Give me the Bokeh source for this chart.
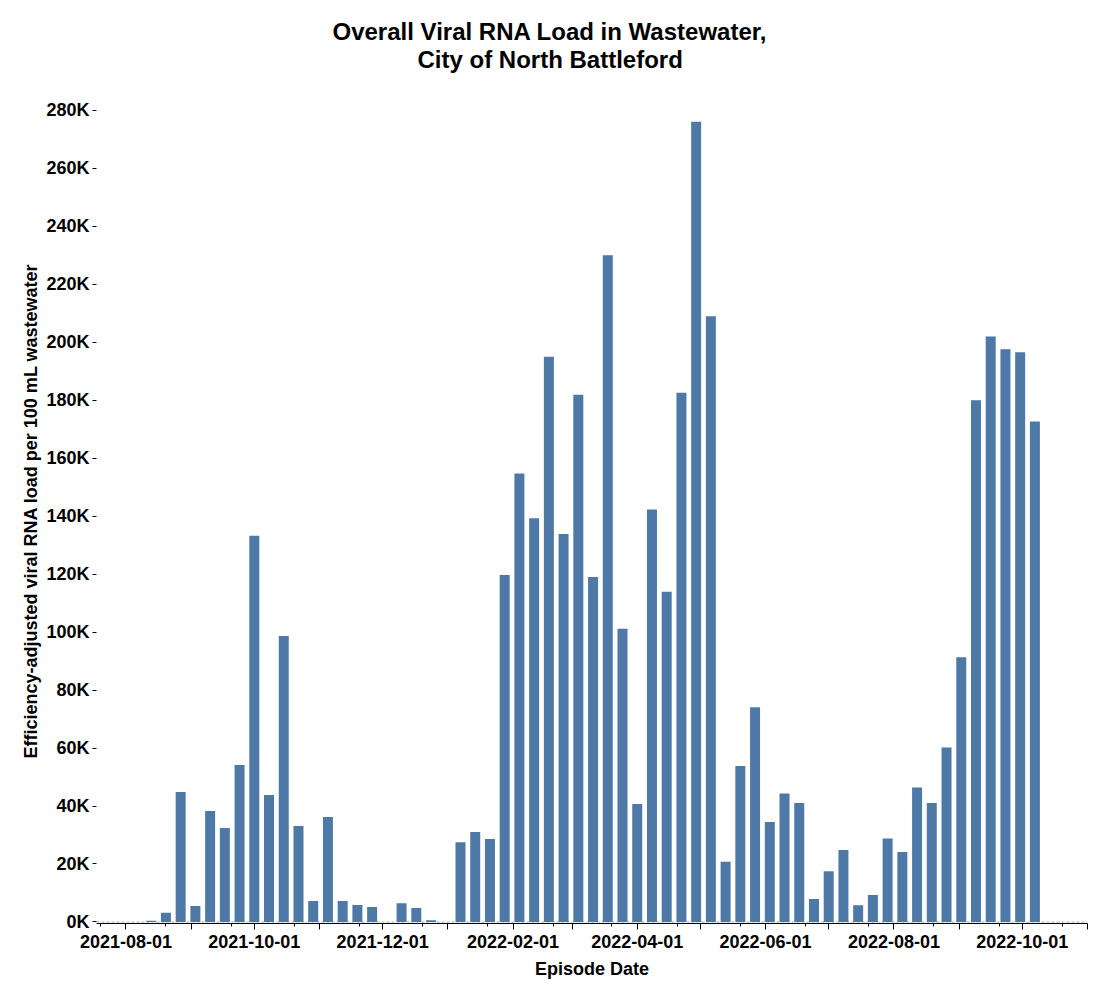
import pandas as pd
from bokeh.plotting import figure
from bokeh.models import (FixedTicker, CustomJSTickFormatter, Span, Title,
                          Range1d, ColumnDataSource)
from bokeh.embed import file_html
from bokeh.resources import INLINE

# ---------------- data ----------------
week_dates = [
    "2021-08-13", "2021-08-20", "2021-08-27", "2021-09-03", "2021-09-10",
    "2021-09-17", "2021-09-24", "2021-10-01", "2021-10-08", "2021-10-15",
    "2021-10-22", "2021-10-29", "2021-11-05", "2021-11-12", "2021-11-19",
    "2021-11-26", "2021-12-10", "2021-12-17", "2021-12-24",
    "2022-01-07", "2022-01-14", "2022-01-21", "2022-01-28", "2022-02-04",
    "2022-02-11", "2022-02-18", "2022-02-25", "2022-03-04", "2022-03-11",
    "2022-03-18", "2022-03-25", "2022-04-01", "2022-04-08", "2022-04-15",
    "2022-04-22", "2022-04-29", "2022-05-06", "2022-05-13", "2022-05-20",
    "2022-05-27", "2022-06-03", "2022-06-10", "2022-06-17", "2022-06-24",
    "2022-07-01", "2022-07-08", "2022-07-15", "2022-07-22", "2022-07-29",
    "2022-08-05", "2022-08-12", "2022-08-19", "2022-08-26", "2022-09-02",
    "2022-09-09", "2022-09-16", "2022-09-23", "2022-09-30", "2022-10-07",
]
rna_load = [
    400, 3200, 44800, 5500, 38300,
    32400, 54100, 133200, 43800, 98600,
    33100, 7200, 36200, 7200, 5900,
    5200, 6500, 4800, 600,
    27500, 31000, 28600, 119700, 154700,
    139200, 194900, 133800, 181800, 119000,
    229900, 101100, 40700, 142300, 113900,
    182500, 276000, 208900, 20800, 53800,
    74100, 34500, 44300, 41000, 7900,
    17500, 24800, 5800, 9300, 28800,
    24100, 46400, 41000, 60200, 91300,
    179900, 201900, 197500, 196500, 172600,
]
y_ticks = list(range(0, 280001, 20000))
x_start, x_end = "2021-07-18", "2022-11-01"
title_lines = ["Overall Viral RNA Load in Wastewater,", "City of North Battleford"]
x_title = "Episode Date"
y_title = "Efficiency-adjusted viral RNA load per 100 mL wastewater"

FONT = "Liberation Sans"
BAR = "#4e79a7"
DAY = 86400000.0


def ms(ts):
    return pd.Timestamp(ts).value / 1e6


src = ColumnDataSource(dict(x=pd.to_datetime(week_dates), top=rna_load))

p = figure(width=1093, height=993, x_axis_type="datetime",
           x_range=Range1d(pd.Timestamp(x_start), pd.Timestamp(x_end)),
           y_range=Range1d(-520, 284000),
           output_backend="svg", toolbar_location=None, title=None,
           min_border_left=96, min_border_right=6, min_border_bottom=70,
           min_border_top=98)
p.outline_line_color = None
p.xgrid.visible = False
p.ygrid.visible = False
p.background_fill_color = "white"

zero = Span(location=0, dimension="width", line_color="#aaaaaa",
            line_width=1, line_dash="3 2", level="underlay")
p.add_layout(zero)

p.vbar(x="x", top="top", bottom=0, width=4.75 * DAY, source=src,
       fill_color=BAR, line_color=None)

# x axis ticks: monthly majors (labels every second month), minors near the 20th
major = pd.date_range("2021-08-01", "2022-11-01", freq="MS")
minor = pd.date_range("2021-07-01", "2022-10-01", freq="MS") + pd.Timedelta(days=19)
p.xaxis.ticker = FixedTicker(ticks=[ms(t) for t in major],
                             minor_ticks=[ms(t) for t in minor])
p.xaxis.formatter = CustomJSTickFormatter(code="""
const d = new Date(tick);
const m = d.getUTCMonth() + 1;
if (m % 2 == 1) { return ""; }
return d.getUTCFullYear() + "-" + String(m).padStart(2, "0") + "-01";
""")
p.yaxis.ticker = FixedTicker(ticks=y_ticks)
p.yaxis.formatter = CustomJSTickFormatter(code="""
return (tick / 1000).toFixed(0) + "K";
""")

for ax in (p.xaxis[0], p.yaxis[0]):
    ax.major_label_text_font = FONT
    ax.major_label_text_font_size = "18px"
    ax.major_label_text_font_style = "bold"
    ax.major_label_text_color = "black"
    ax.axis_label_text_font = FONT
    ax.axis_label_text_font_size = "18px"
    ax.axis_label_text_font_style = "bold"
    ax.axis_label_text_color = "black"
    ax.major_tick_in = 0
    ax.minor_tick_in = 0
    ax.major_tick_line_color = "black"
    ax.minor_tick_line_color = "black"

xa = p.xaxis[0]
xa.axis_label = x_title
xa.axis_line_color = "black"
xa.major_tick_out = 6
xa.minor_tick_out = 3
xa.major_label_standoff = 5
xa.axis_label_standoff = 8

ya = p.yaxis[0]
ya.axis_label = y_title
ya.axis_line_color = None
ya.major_tick_out = 4
ya.minor_tick_out = 0
ya.major_label_standoff = 3
ya.axis_label_standoff = 2

# title lines, centred over the whole canvas (left edges from text widths)
title_left = [337, 422]
lines = list(zip(title_lines, title_left))
for i, (line, left) in enumerate(reversed(lines)):
    p.add_layout(Title(text=line, align="left", offset=left - 101,
                       text_font=FONT, text_font_size="24px",
                       text_font_style="bold", text_color="black",
                       vertical_align="top" if i == 0 else "bottom",
                       standoff=48 if i == 0 else -46), "above")

open("out.html", "w").write(file_html(p, INLINE))
